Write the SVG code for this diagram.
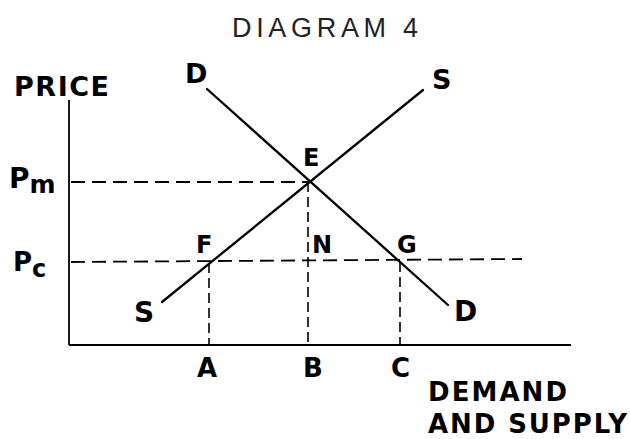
<svg xmlns="http://www.w3.org/2000/svg" width="630" height="439" viewBox="0 0 630 439">
<style>
.lbl{font-family:"DejaVu Sans","Liberation Sans",sans-serif;font-weight:bold;fill:#000}
.title{font-family:"Liberation Sans","Arial",sans-serif;font-weight:normal;fill:#222}
.curve{stroke:#000;stroke-width:2.3;fill:none;stroke-linecap:round}
.axis{stroke:#000;stroke-width:1.8;fill:none}
.dashh{stroke:#000;stroke-width:1.8;fill:none;stroke-dasharray:14 7}
.dashv{stroke:#000;stroke-width:1.6;fill:none;stroke-dasharray:10 5}
</style>
<rect width="630" height="439" fill="#fff"/>
<text class="title" x="232" y="37" font-size="27" textLength="186" lengthAdjust="spacing">DIAGRAM 4</text>
<g id="axes">
<line class="axis" x1="69" y1="100" x2="69" y2="345"/>
<line class="axis" x1="69" y1="345" x2="571" y2="345"/>
</g>
<g id="connectors">
<line class="curve" x1="207" y1="89" x2="448" y2="305"/>
<line class="curve" x1="162" y1="302" x2="423" y2="90"/>
<line class="dashh" x1="71" y1="182" x2="308" y2="182"/>
<line class="dashh" x1="71" y1="262" x2="522" y2="259"/>
<line class="dashv" x1="209" y1="263" x2="209" y2="345"/>
<line class="dashv" x1="308" y1="182" x2="308" y2="345"/>
<line class="dashv" x1="400" y1="262" x2="400" y2="345"/>
</g>
<g id="labels">
<text class="lbl" x="14" y="96" font-size="27" textLength="95" lengthAdjust="spacing">PRICE</text>
<text class="lbl" x="185" y="83" font-size="27">D</text>
<text class="lbl" x="432" y="89" font-size="27">S</text>
<text class="lbl" x="303" y="166" font-size="24">E</text>
<text class="lbl" x="196" y="253" font-size="24">F</text>
<text class="lbl" x="312" y="253" font-size="24">N</text>
<text class="lbl" x="397" y="253" font-size="24">G</text>
<text class="lbl" x="134" y="322" font-size="28">S</text>
<text class="lbl" x="454" y="321" font-size="28">D</text>
<text class="lbl" x="197" y="377" font-size="26">A</text>
<text class="lbl" x="303" y="377" font-size="26">B</text>
<text class="lbl" x="391" y="377" font-size="26">C</text>
<text class="lbl" x="9" y="188" font-size="28">P<tspan font-size="25" dy="5">m</tspan></text>
<text class="lbl" x="13" y="271" font-size="26">P<tspan font-size="24" dy="6">c</tspan></text>
<text class="lbl" x="428" y="401" font-size="26" textLength="139" lengthAdjust="spacing">DEMAND</text>
<text class="lbl" x="428" y="433" font-size="26" textLength="199" lengthAdjust="spacing">AND SUPPLY</text>
</g>
</svg>
